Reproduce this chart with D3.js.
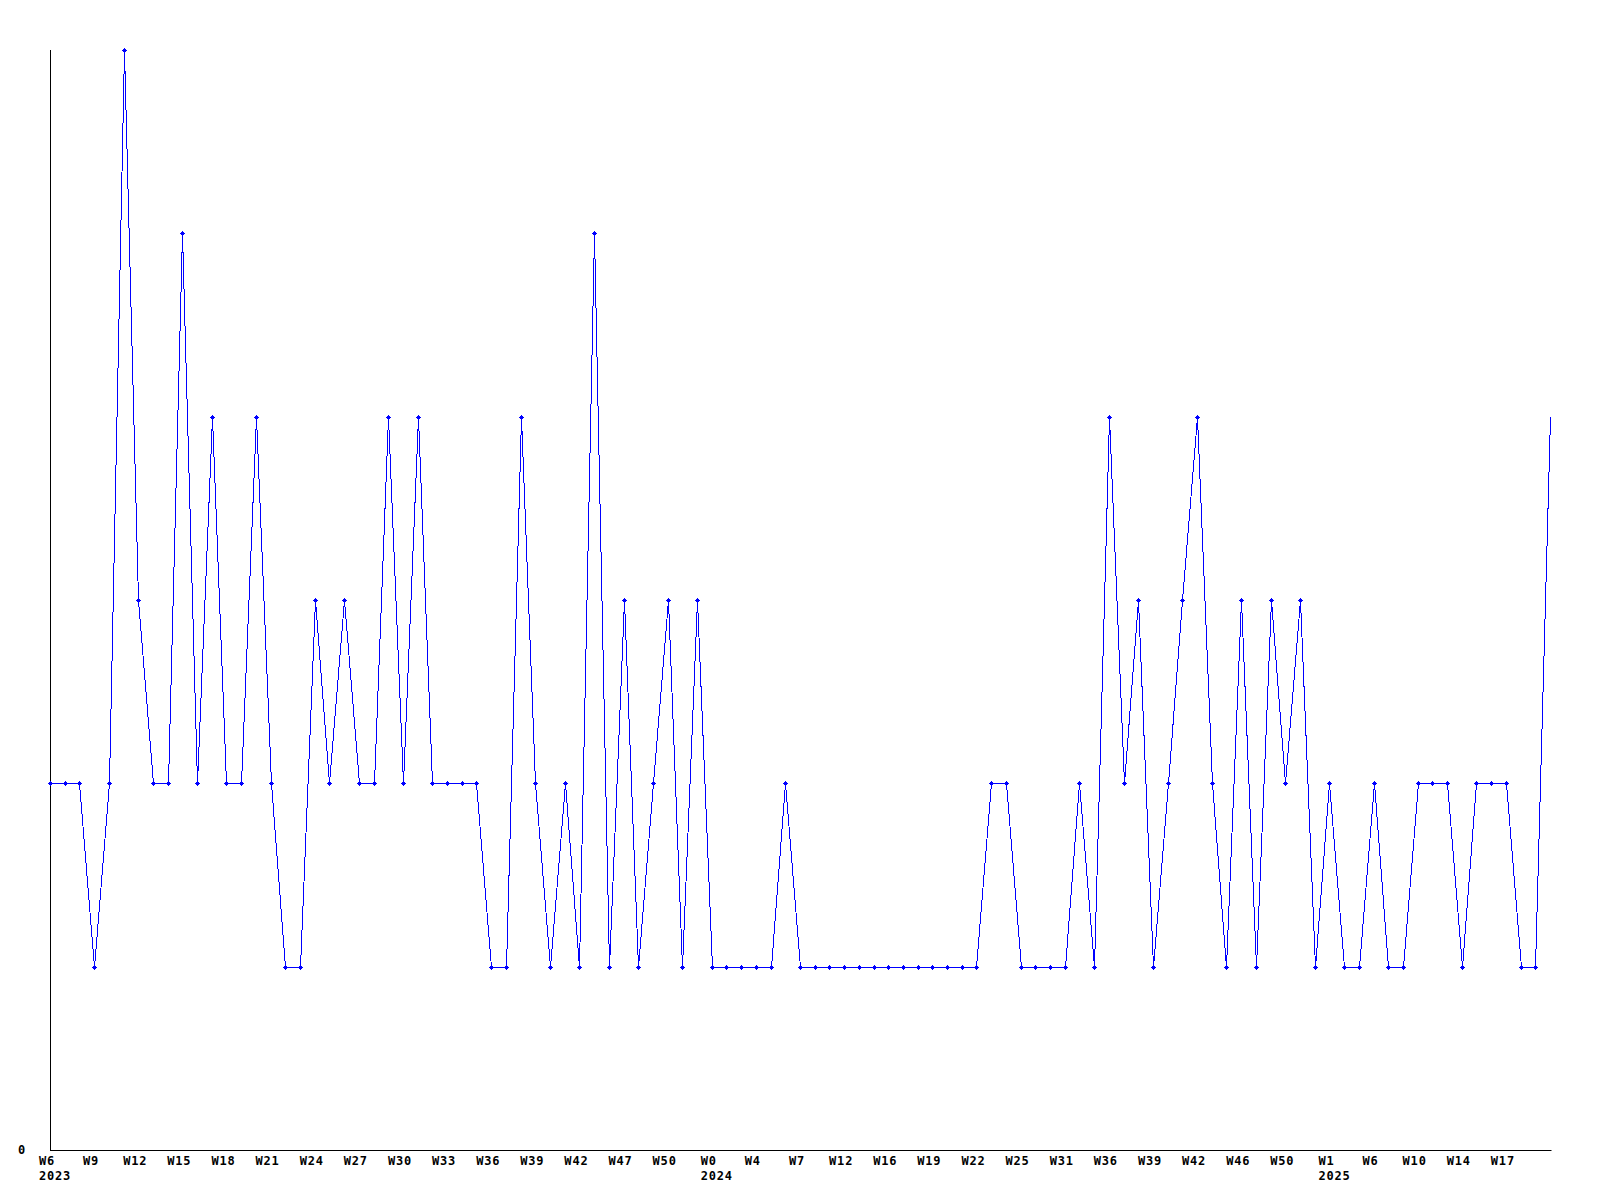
<!DOCTYPE html>
<html>
<head>
<meta charset="utf-8">
<script src="https://cdn.jsdelivr.net/npm/d3@7"></script>
<style>
  html, body { margin: 0; padding: 0; background: #fff; }
  svg { display: block; }
  text { font-family: "DejaVu Sans Mono", "Liberation Mono", monospace; font-weight: bold; font-size: 12px; letter-spacing: 0.8px; fill: #000; }
</style>
</head>
<body>
<svg id="chart" width="1600" height="1200"></svg>
<script>
// Series values, one per period (index = position along x)
const values = [
  2, 2, 2, 1, 2, 6, 3, 2, 2, 5,
  2, 4, 2, 2, 4, 2, 1, 1, 3, 2,
  3, 2, 2, 4, 2, 4, 2, 2, 2, 2,
  1, 1, 4, 2, 1, 2, 1, 5, 1, 3,
  1, 2, 3, 1, 3, 1, 1, 1, 1, 1,
  2, 1, 1, 1, 1, 1, 1, 1, 1, 1,
  1, 1, 1, 1, 2, 2, 1, 1, 1, 1,
  2, 1, 4, 2, 3, 1, 2, 3, 4, 2,
  1, 3, 1, 3, 2, 3, 1, 2, 1, 1,
  2, 1, 1, 2, 2, 2, 1, 2, 2, 2,
  1, 1, 4
];
// Tick labels, one every third point
const tickLabels = [
  "W6", "W9", "W12", "W15", "W18", "W21", "W24", "W27", "W30", "W33",
  "W36", "W39", "W42", "W47", "W50", "W0", "W4", "W7", "W12", "W16",
  "W19", "W22", "W25", "W31", "W36", "W39", "W42", "W46", "W50", "W1",
  "W6", "W10", "W14", "W17"
];
const tickStep = 3;
// Year labels placed under the tick with the given label index
const yearLabelIdx = [0, 15, 29];
const yearLabels = ["2023", "2024", "2025"];
const yMax = 6;

const svg = d3.select("#chart");
const mLeft = 50, mRight = 1550, mTop = 50, mBottom = 1150;

const x = d3.scaleLinear().domain([0, values.length - 1]).range([mLeft, mRight]);
const y = d3.scaleLinear().domain([0, yMax]).range([mBottom, mTop]);

// axes lines
svg.append("line")
  .attr("x1", mLeft + 0.5).attr("x2", mLeft + 0.5)
  .attr("y1", mTop).attr("y2", mBottom + 0.5)
  .attr("stroke", "#000").attr("stroke-width", 1);
svg.append("line")
  .attr("x1", mLeft).attr("x2", mRight + 1.5)
  .attr("y1", mBottom + 0.5).attr("y2", mBottom + 0.5)
  .attr("stroke", "#000").attr("stroke-width", 1);

// y label "0"
svg.append("text")
  .attr("x", 22).attr("y", y(0))
  .attr("text-anchor", "middle")
  .attr("dominant-baseline", "central")
  .text("0");

// x tick labels
const tickG = svg.append("g");
tickLabels.forEach((lab, i) => {
  const t = tickG.append("text")
    .attr("x", x(i * tickStep) - 3)
    .attr("y", 1161)
    .attr("text-anchor", "middle")
    .attr("dominant-baseline", "central")
    .text(lab);
  const yi = yearLabelIdx.indexOf(i);
  if (yi >= 0) {
    const w = t.node().getComputedTextLength();
    tickG.append("text")
      .attr("x", x(i * tickStep) - 3 - w / 2)
      .attr("y", 1176)
      .attr("text-anchor", "start")
      .attr("dominant-baseline", "central")
      .text(yearLabels[yi]);
  }
});

// line
const line = d3.line()
  .x((d, i) => Math.round(x(i)) + 0.5)
  .y(d => Math.round(y(d)) + 0.5);
svg.append("path")
  .datum(values)
  .attr("d", line)
  .attr("fill", "none")
  .attr("stroke", "#0000ff")
  .attr("stroke-width", 1)
  .attr("shape-rendering", "crispEdges");

// markers (small plus shapes); last point has no marker in the reference
svg.append("g").selectAll("path")
  .data(values.slice(0, values.length - 1))
  .join("path")
  .attr("transform", (d, i) => `translate(${Math.round(x(i)) + 0.5},${Math.round(y(d)) + 0.5})`)
  .attr("d", "M-2.5,-0.5H2.5V0.5H-2.5Z M-0.5,-2.5H0.5V2.5H-0.5Z M-1.5,-1.5H1.5V1.5H-1.5Z")
  .attr("fill", "#0000ff")
  .attr("shape-rendering", "crispEdges");
</script>
</body>
</html>
